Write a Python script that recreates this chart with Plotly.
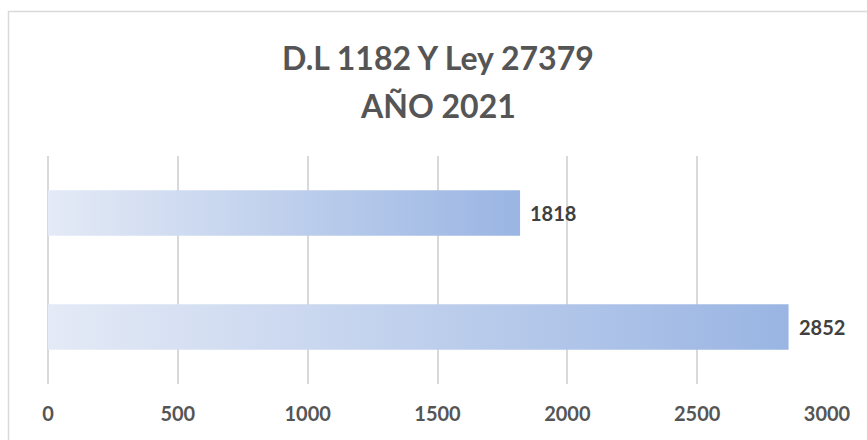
import plotly.graph_objects as go

# Data
categories = ["Ley 27379", "D.L 1182"]   # bottom to top
values = [2852, 1818]
x_ticks = [0, 500, 1000, 1500, 2000, 2500, 3000]
title_lines = ["D.L 1182 Y Ley 27379", "AÑO 2021"]

FONT = "Lato"
TXT = "#555555"
GRID = "#D9D9D9"
BAR_LIGHT = "#E4EAF6"
BAR_DARK = "#9AB5E3"
BAR_W = 0.40

fig = go.Figure()
for i, (cat, v) in enumerate(zip(categories, values)):
    y0, y1 = i - BAR_W / 2, i + BAR_W / 2
    fig.add_trace(go.Scatter(
        x=[0, v, v, 0, 0], y=[y0, y0, y1, y1, y0],
        mode="lines", fill="toself", line=dict(width=0),
        fillgradient=dict(type="horizontal",
                          colorscale=[[0, BAR_LIGHT], [1, BAR_DARK]]),
        name=cat, hoverinfo="skip", showlegend=False,
    ))
    fig.add_annotation(x=v, y=i, text=f"<b>{v}</b>", showarrow=False,
                       xanchor="left", xshift=8,
                       font=dict(family=FONT, size=20, color="#404040"))

W, H = 867, 440
L, R, T, B = 48, 40, 156, 56
pw, ph = W - L - R, H - T - B

def px_x(p):
    return (p - L) / pw

def px_y(p):
    return (H - B - p) / ph

# Title lines
fig.add_annotation(x=0.5, xref="paper", yref="paper", y=px_y(57), yanchor="middle",
                   text=f"<b>{title_lines[0]}</b>", showarrow=False,
                   font=dict(family=FONT, size=32, color=TXT))
fig.add_annotation(x=0.5, xref="paper", yref="paper", y=px_y(105), yanchor="middle",
                   text=f"<b>{title_lines[1]}</b>", showarrow=False,
                   font=dict(family=FONT, size=32, color=TXT))

# Chart area border
fig.add_shape(type="rect", xref="paper", yref="paper",
              x0=px_x(8.5), x1=px_x(875), y0=px_y(11.5), y1=px_y(450),
              line=dict(color=GRID, width=1.5), layer="below")

fig.update_layout(
    width=W, height=H,
    margin=dict(l=L, r=R, t=T, b=B),
    plot_bgcolor="white", paper_bgcolor="white",
    showlegend=False,
    xaxis=dict(range=[0, 3000], tickvals=x_ticks,
               ticktext=[f"<b>{t}</b>" for t in x_ticks],
               showgrid=True, gridcolor=GRID, gridwidth=1.5,
               zeroline=True, zerolinecolor=GRID, zerolinewidth=1.5,
               showline=False, ticks="", ticklabelstandoff=16,
               tickfont=dict(family=FONT, size=20, color=TXT),
               fixedrange=True),
    yaxis=dict(range=[-0.5, len(categories) - 0.5], showgrid=False,
               zeroline=False, showticklabels=False, showline=False,
               fixedrange=True),
)

fig.write_html("out.html", config={"displayModeBar": False},
               post_script="document.body.style.margin='0';document.body.style.overflow='hidden';")
